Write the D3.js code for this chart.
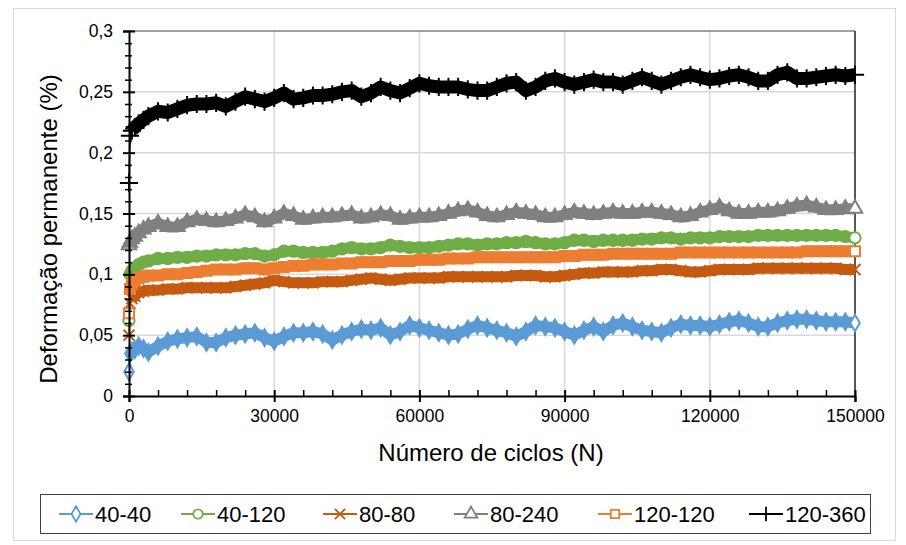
<!DOCTYPE html>
<html>
<head>
<meta charset="utf-8">
<script src="https://cdn.jsdelivr.net/npm/d3@7"></script>
<style>
  html, body { margin: 0; padding: 0; background: #fff; }
  svg { display: block; font-family: "Liberation Sans", Arial, sans-serif; }
</style>
</head>
<body>
<svg id="chart" width="906" height="545"></svg>
<script>
// ---------------- data ----------------
const cycles = [0, 200, 600, 1200, 2000, 3000, 4000, 6000, 8000, 10000,
  12000, 14000, 16000, 18000, 20000, 22000, 24000, 26000, 28000, 30000,
  32000, 34000, 36000, 38000, 40000, 42000, 44000, 46000, 48000, 50000,
  52000, 54000, 56000, 58000, 60000, 62000, 64000, 66000, 68000, 70000,
  72000, 74000, 76000, 78000, 80000, 82000, 84000, 86000, 88000, 90000,
  92000, 94000, 96000, 98000, 100000, 102000, 104000, 106000, 108000, 110000,
  112000, 114000, 116000, 118000, 120000, 122000, 124000, 126000, 128000, 130000,
  132000, 134000, 136000, 138000, 140000, 142000, 144000, 146000, 148000, 150000];

const s40_40 = [0.020, 0.035, 0.037, 0.038, 0.041, 0.039, 0.036, 0.041, 0.045, 0.047,
  0.048, 0.049, 0.044, 0.044, 0.048, 0.050, 0.051, 0.052, 0.048, 0.045,
  0.049, 0.052, 0.052, 0.053, 0.051, 0.046, 0.050, 0.053, 0.055, 0.054,
  0.056, 0.050, 0.053, 0.058, 0.056, 0.054, 0.052, 0.050, 0.051, 0.055,
  0.058, 0.056, 0.054, 0.052, 0.049, 0.053, 0.058, 0.057, 0.056, 0.053,
  0.050, 0.054, 0.057, 0.053, 0.058, 0.060, 0.057, 0.054, 0.053, 0.052,
  0.056, 0.059, 0.058, 0.058, 0.057, 0.059, 0.061, 0.062, 0.060, 0.057,
  0.057, 0.060, 0.062, 0.063, 0.063, 0.062, 0.061, 0.061, 0.061, 0.060];

const s40_120 = [0.062, 0.100, 0.103, 0.105, 0.108, 0.110, 0.111, 0.113, 0.113, 0.114,
  0.114, 0.115, 0.115, 0.116, 0.116, 0.116, 0.117, 0.117, 0.115, 0.116,
  0.119, 0.119, 0.118, 0.118, 0.118, 0.119, 0.121, 0.122, 0.121, 0.121,
  0.122, 0.124, 0.123, 0.122, 0.122, 0.122, 0.123, 0.124, 0.125, 0.125,
  0.124, 0.125, 0.125, 0.126, 0.126, 0.127, 0.126, 0.125, 0.125, 0.126,
  0.128, 0.128, 0.127, 0.128, 0.128, 0.128, 0.128, 0.129, 0.129, 0.130,
  0.130, 0.129, 0.130, 0.130, 0.130, 0.131, 0.131, 0.131, 0.131, 0.132,
  0.132, 0.132, 0.132, 0.132, 0.132, 0.132, 0.132, 0.132, 0.131, 0.130];

const s80_80 = [0.050, 0.076, 0.080, 0.082, 0.085, 0.086, 0.087, 0.087, 0.088, 0.088,
  0.089, 0.089, 0.089, 0.089, 0.089, 0.090, 0.091, 0.092, 0.093, 0.095,
  0.094, 0.093, 0.093, 0.093, 0.094, 0.094, 0.094, 0.095, 0.096, 0.097,
  0.096, 0.095, 0.096, 0.097, 0.097, 0.097, 0.097, 0.098, 0.098, 0.098,
  0.098, 0.098, 0.098, 0.098, 0.099, 0.099, 0.099, 0.098, 0.098, 0.099,
  0.100, 0.101, 0.101, 0.102, 0.102, 0.102, 0.102, 0.103, 0.103, 0.104,
  0.104, 0.103, 0.102, 0.102, 0.103, 0.104, 0.104, 0.104, 0.104, 0.105,
  0.105, 0.105, 0.105, 0.105, 0.105, 0.105, 0.105, 0.105, 0.104, 0.104];

const s80_240 = [0.124, 0.126, 0.129, 0.131, 0.134, 0.137, 0.139, 0.142, 0.139, 0.139,
  0.143, 0.145, 0.144, 0.143, 0.144, 0.146, 0.149, 0.147, 0.143, 0.146,
  0.150, 0.148, 0.145, 0.146, 0.147, 0.147, 0.148, 0.149, 0.146, 0.147,
  0.149, 0.148, 0.145, 0.146, 0.147, 0.147, 0.148, 0.150, 0.152, 0.153,
  0.151, 0.148, 0.147, 0.149, 0.151, 0.150, 0.149, 0.147, 0.147, 0.149,
  0.151, 0.150, 0.149, 0.150, 0.151, 0.150, 0.150, 0.151, 0.151, 0.150,
  0.149, 0.147, 0.148, 0.151, 0.153, 0.155, 0.152, 0.150, 0.150, 0.151,
  0.151, 0.152, 0.154, 0.156, 0.157, 0.155, 0.153, 0.153, 0.154, 0.154];

const s120_120 = [0.068, 0.088, 0.092, 0.095, 0.097, 0.098, 0.099, 0.099, 0.100, 0.100,
  0.101, 0.102, 0.103, 0.104, 0.104, 0.104, 0.105, 0.105, 0.104, 0.105,
  0.106, 0.107, 0.107, 0.108, 0.108, 0.108, 0.109, 0.109, 0.110, 0.110,
  0.110, 0.111, 0.111, 0.111, 0.112, 0.112, 0.112, 0.113, 0.113, 0.113,
  0.114, 0.114, 0.114, 0.114, 0.114, 0.114, 0.114, 0.114, 0.114, 0.115,
  0.115, 0.116, 0.116, 0.116, 0.117, 0.117, 0.117, 0.117, 0.117, 0.117,
  0.117, 0.118, 0.118, 0.118, 0.118, 0.118, 0.118, 0.118, 0.118, 0.118,
  0.118, 0.118, 0.118, 0.118, 0.119, 0.119, 0.119, 0.119, 0.119, 0.119];

const s120_360 = [0.175, 0.214, 0.218, 0.221, 0.224, 0.227, 0.230, 0.234, 0.233, 0.236,
  0.239, 0.240, 0.240, 0.241, 0.238, 0.242, 0.246, 0.244, 0.242, 0.245,
  0.249, 0.244, 0.245, 0.247, 0.247, 0.248, 0.250, 0.251, 0.246, 0.249,
  0.254, 0.251, 0.249, 0.253, 0.257, 0.255, 0.254, 0.254, 0.254, 0.252,
  0.251, 0.251, 0.254, 0.257, 0.258, 0.251, 0.254, 0.259, 0.261, 0.258,
  0.256, 0.258, 0.260, 0.258, 0.258, 0.256, 0.259, 0.262, 0.259, 0.256,
  0.259, 0.262, 0.264, 0.262, 0.260, 0.261, 0.263, 0.264, 0.262, 0.259,
  0.259, 0.264, 0.266, 0.261, 0.261, 0.262, 0.263, 0.264, 0.263, 0.264];

const seriesNames = ["40-40", "40-120", "80-80", "80-240", "120-120", "120-360"];
const seriesValues = [s40_40, s40_120, s80_80, s80_240, s120_120, s120_360];

const yTickValues = [0, 0.05, 0.1, 0.15, 0.2, 0.25, 0.3];
const yTickLabels = ["0", "0,05", "0,1", "0,15", "0,2", "0,25", "0,3"];
const xTickValues = [0, 30000, 60000, 90000, 120000, 150000];
const xTickLabels = ["0", "30000", "60000", "90000", "120000", "150000"];

const xTitle = "Número de ciclos (N)";
const yTitle = "Deformação permanente (%)";

// ---------------- styles ----------------
const colors = ["#5B9BD5", "#70AD47", "#C55A11", "#808080", "#ED7D31", "#000000"];
const symbols = [d3.symbolDiamond, d3.symbolCircle, d3.symbolTimes, d3.symbolTriangle, d3.symbolSquare, d3.symbolPlus];
const strokeOnly = [false, false, true, false, false, true];
const symSizes = [80, 100, 80, 90, 100, 110];
const bandWidth = [11, 11, 11, 11, 11, 13];

const svg = d3.select("#chart");

// outer frame
svg.append("rect").attr("x", 13.5).attr("y", 8.5).attr("width", 882).attr("height", 532)
  .attr("fill", "#fff").attr("stroke", "#d9d9d9").attr("stroke-width", 1);

const X0 = 129, X1 = 855, Y0 = 396, Y1 = 31;
const x = d3.scaleLinear().domain([0, 150000]).range([X0, X1]);
const y = d3.scaleLinear().domain([0, 0.3]).range([Y0, Y1]);

// gridlines
const grid = svg.append("g");
grid.selectAll("line.h").data(yTickValues.filter(v => v > 0 && v < 0.3)).join("line")
  .attr("x1", X0).attr("x2", X1).attr("y1", d => y(d)).attr("y2", d => y(d))
  .attr("stroke", "#d9d9d9").attr("stroke-width", 1.5);
grid.selectAll("line.v").data(xTickValues.filter(v => v > 0 && v < 150000)).join("line")
  .attr("y1", Y1).attr("y2", Y0).attr("x1", d => x(d)).attr("x2", d => x(d))
  .attr("stroke", "#d9d9d9").attr("stroke-width", 1.5);
// plot border top/right
svg.append("line").attr("x1", X0).attr("x2", X1).attr("y1", Y1).attr("y2", Y1)
  .attr("stroke", "#404040").attr("stroke-width", 1);
svg.append("line").attr("x1", X1).attr("x2", X1).attr("y1", Y1).attr("y2", Y0)
  .attr("stroke", "#000").attr("stroke-width", 1.3);

// series
const lineGen = d3.line().x(d => x(d[0])).y(d => y(d[1]));
seriesValues.forEach((vals, si) => {
  const pts = cycles.map((c, i) => [c, vals[i]]);
  const g = svg.append("g");
  g.append("path").attr("d", lineGen(pts)).attr("fill", "none")
    .attr("stroke", colors[si]).attr("stroke-width", 1.5);
  // dense band (overlapping markers in the original)
  g.append("path").attr("d", lineGen(pts.slice(2))).attr("fill", "none")
    .attr("stroke", colors[si]).attr("stroke-width", bandWidth[si]).attr("stroke-linejoin", "round");
  const sym = d3.symbol().type(symbols[si]).size(symSizes[si]);
  g.selectAll("path.m").data(pts).join("path").attr("class", "m")
    .attr("d", sym)
    .attr("transform", d => `translate(${x(d[0])},${y(d[1])})`)
    .attr("fill", (d, i) => strokeOnly[si] ? "none" : (i === 0 || i === pts.length - 1 ? "#fff" : colors[si]))
    .attr("stroke", colors[si]).attr("stroke-width", 2);
});

// axes
const yAxis = d3.axisLeft(y).tickValues(yTickValues)
  .tickFormat((d, i) => yTickLabels[i]).tickSize(6).tickPadding(10);
const gy = svg.append("g").attr("transform", `translate(${X0},0)`).call(yAxis);
gy.select(".domain").attr("stroke", "#000").attr("stroke-width", 2);
gy.selectAll(".tick line").attr("x1", 6).attr("x2", -6).attr("stroke", "#000").attr("stroke-width", 2);
gy.selectAll(".tick text").attr("font-size", 17.5).attr("fill", "#000")
  .attr("font-family", "Liberation Sans, Arial, sans-serif");
const yMinor = d3.range(1, 30).map(i => i * 0.01).filter(v => Math.abs(v / 0.05 - Math.round(v / 0.05)) > 1e-6);
const gym = svg.append("g").attr("transform", `translate(${X0},0)`)
  .call(d3.axisLeft(y).tickValues(yMinor).tickFormat("").tickSize(4));
gym.select(".domain").remove();
gym.selectAll(".tick line").attr("x1", 3).attr("x2", -4).attr("stroke", "#000").attr("stroke-width", 1.5);

const xAxis = d3.axisBottom(x).tickValues(xTickValues)
  .tickFormat((d, i) => xTickLabels[i]).tickSize(6).tickPadding(8);
const gx = svg.append("g").attr("transform", `translate(0,${Y0})`).call(xAxis);
gx.select(".domain").attr("stroke", "#000").attr("stroke-width", 2);
gx.selectAll(".tick line").attr("y1", -6).attr("y2", 6).attr("stroke", "#000").attr("stroke-width", 2);
gx.selectAll(".tick text").attr("font-size", 17.5).attr("fill", "#000")
  .attr("font-family", "Liberation Sans, Arial, sans-serif");
const xMinor = d3.range(1, 25).map(i => i * 6000).filter(v => v % 30000 !== 0);
const gxm = svg.append("g").attr("transform", `translate(0,${Y0})`)
  .call(d3.axisBottom(x).tickValues(xMinor).tickFormat("").tickSize(5));
gxm.select(".domain").remove();
gxm.selectAll(".tick line").attr("y1", 0).attr("y2", -6).attr("stroke", "#000").attr("stroke-width", 1.5);

// titles
svg.append("text").attr("x", 491).attr("y", 461).attr("text-anchor", "middle")
  .attr("font-size", 24).attr("fill", "#000").text(xTitle);
svg.append("text").attr("transform", `translate(57,229) rotate(-90)`)
  .attr("text-anchor", "middle").attr("font-size", 24).attr("fill", "#000").text(yTitle);

// legend
const lg = svg.append("g");
lg.append("rect").attr("x", 40.5).attr("y", 494.5).attr("width", 830).attr("height", 39)
  .attr("fill", "#fff").attr("stroke", "#404040").attr("stroke-width", 1);
const legMarkX = [76, 198, 340, 471, 615, 766];
seriesNames.forEach((name, si) => {
  const cx = legMarkX[si], cy = 514;
  lg.append("line").attr("x1", cx - 17).attr("x2", cx + 17).attr("y1", cy).attr("y2", cy)
    .attr("stroke", colors[si]).attr("stroke-width", 2);
  lg.append("path").attr("d", d3.symbol().type(symbols[si]).size(70)())
    .attr("transform", `translate(${cx},${cy})`)
    .attr("fill", strokeOnly[si] ? "none" : "#fff").attr("stroke", colors[si]).attr("stroke-width", 1.8);
  lg.append("text").attr("x", cx + 19).attr("y", cy + 8).attr("font-size", 22)
    .attr("fill", "#000").text(name);
});
</script>
</body>
</html>
